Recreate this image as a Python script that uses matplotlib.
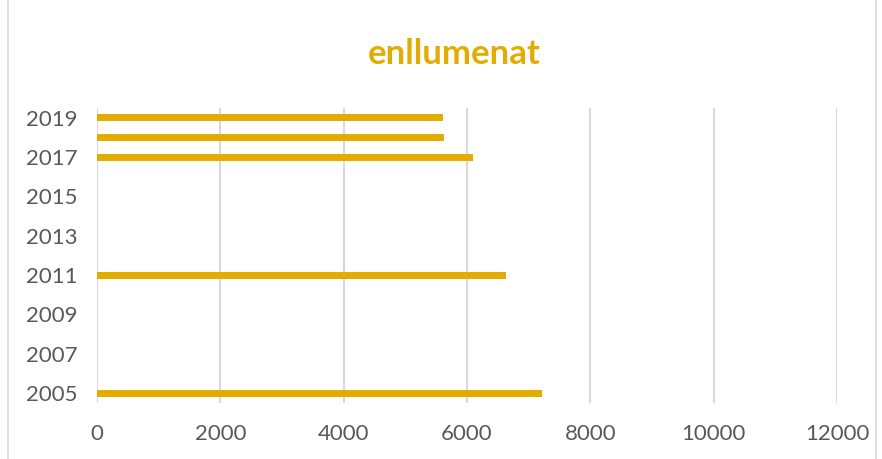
import matplotlib
matplotlib.use("Agg")
import matplotlib.pyplot as plt
from matplotlib.patches import Rectangle

title = "enllumenat"
years = [2005, 2011, 2017, 2018, 2019]
values = [7210, 6625, 6105, 5630, 5610]
year_ticks = [2005, 2007, 2009, 2011, 2013, 2015, 2017, 2019]
x_ticks = [0, 2000, 4000, 6000, 8000, 10000, 12000]

gold = "#E2AC00"
grid_c = "#D9D9D9"
text_c = "#595959"

fig = plt.figure(figsize=(8.82, 4.59), dpi=100)
ax = fig.add_axes([97/882, 1-403/459, (837-97)/882, (403-108)/459])

ax.barh(years, values, height=0.36, color=gold, zorder=3)
ax.set_xlim(0, 12000)
ax.set_ylim(2004.5, 2019.5)
ax.set_xticks(x_ticks)
ax.set_yticks(year_ticks)
ax.set_xticklabels([str(v) for v in x_ticks], fontsize=16, color=text_c, family="Lato")
ax.set_yticklabels([str(v) for v in year_ticks], fontsize=16, color=text_c, family="Lato")
ax.tick_params(axis="y", length=0, pad=14)
ax.tick_params(axis="x", length=0, pad=15)
ax.grid(axis="x", color=grid_c, linewidth=1.5, zorder=0)
for s in ax.spines.values():
    s.set_visible(False)

fig.text(454/882, 1-54/459, title, ha="center", va="center", fontsize=25,
         fontweight="bold", color=gold, family="Lato")

fig.patches.append(Rectangle((8/882, -0.01), (876-8)/882, 1.2, transform=fig.transFigure,
                             fill=False, edgecolor=grid_c, linewidth=1.2))

fig.savefig("out.png", dpi=100)
